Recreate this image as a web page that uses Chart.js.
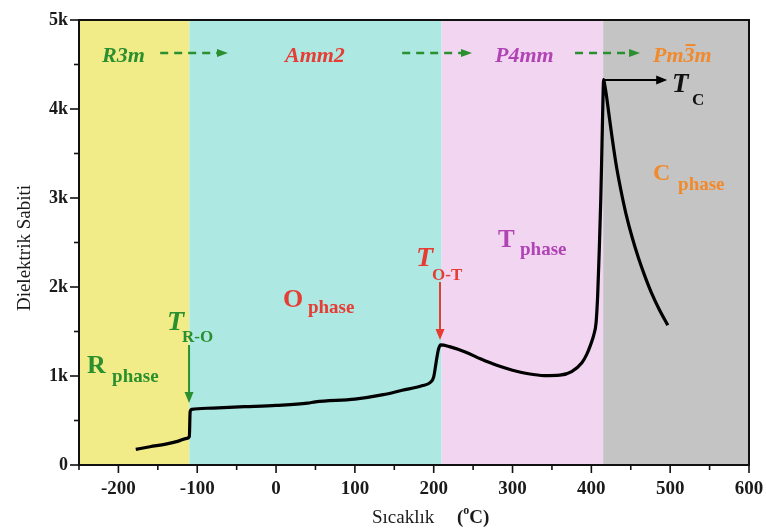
<!DOCTYPE html>
<html>
<head>
<meta charset="utf-8">
<script src="https://cdn.jsdelivr.net/npm/chart.js@4.4.1/dist/chart.umd.min.js"></script>
<style>
html,body{margin:0;padding:0;background:#fff;}
#wrap{width:766px;height:530px;position:relative;}
</style>
</head>
<body>
<div id="wrap"><canvas id="c" width="766" height="530"></canvas></div>
<script>
// ---- data ----
const temps = [-178,-160,-140,-125,-113,-110,-109,-107,-80,-40,0,40,50,100,136,160,185,196,200,203,206,209,220,240,260,280,300,320,340,360,375,388,394,399,403,406,408,410,412,413.5,414.7,415.5,417,419,422,426,431,437,444,452,460,468,476,486,497];
const permittivity = [175,205,235,265,300,320,600,625,640,655,670,695,710,740,790,840,890,930,990,1150,1300,1350,1330,1270,1190,1120,1065,1025,1005,1010,1050,1150,1240,1350,1460,1600,1900,2400,3000,3600,4100,4330,4270,4160,3960,3700,3400,3110,2820,2550,2320,2120,1940,1750,1570];
const phaseBounds = [-250,-110,210,415,600];
const phaseColors = ['#f2ec88','#ade8e3','#f1d5f1','#c4c4c4'];
const xTickLabels = ['-200','-100','0','100','200','300','400','500','600'];
const yTickLabels = ['0','1k','2k','3k','4k','5k'];
const yTitle = 'Dielektrik Sabiti';
const xTitle = 'Sıcaklık';

const SERIF = '"Liberation Serif","DejaVu Serif",serif';
const GREEN = '#2a8f2e', RED = '#e63c34', PURPLE = '#b044b4', ORANGE = '#f08a2c';

function arrowHead(ctx, x1, y1, x2, y2, color, len, half){
  const a = Math.atan2(y2-y1, x2-x1);
  ctx.fillStyle = color;
  ctx.beginPath();
  ctx.moveTo(x2, y2);
  ctx.lineTo(x2 - len*Math.cos(a) + half*Math.sin(a), y2 - len*Math.sin(a) - half*Math.cos(a));
  ctx.lineTo(x2 - len*Math.cos(a) - half*Math.sin(a), y2 - len*Math.sin(a) + half*Math.cos(a));
  ctx.closePath();
  ctx.fill();
}

const bgPlugin = {
  id: 'phases',
  beforeDatasetsDraw(chart){
    const {ctx, chartArea:a, scales:{x}} = chart;
    ctx.save();
    for (let i=0;i<phaseColors.length;i++){
      const x1 = x.getPixelForValue(phaseBounds[i]);
      const x2 = x.getPixelForValue(phaseBounds[i+1]);
      ctx.fillStyle = phaseColors[i];
      ctx.fillRect(x1, a.top, x2-x1, a.bottom-a.top);
    }
    ctx.restore();
  },
  afterDatasetsDraw(chart){
    const {ctx, chartArea:a, scales:{x, y}} = chart;
    const X = v => x.getPixelForValue(v), Y = v => y.getPixelForValue(v);
    ctx.save();
    // frame
    ctx.strokeStyle = '#111'; ctx.lineWidth = 2;
    ctx.strokeRect(a.left, a.top, a.right-a.left, a.bottom-a.top);
    // ticks
    ctx.lineWidth = 1.6;
    x.ticks.forEach(t => {
      const px = X(t.value); const major = t.value % 100 === 0;
      ctx.beginPath(); ctx.moveTo(px, a.bottom); ctx.lineTo(px, a.bottom + (major?8:5)); ctx.stroke();
    });
    y.ticks.forEach(t => {
      const py = Y(t.value); const major = t.value % 1000 === 0;
      ctx.beginPath(); ctx.moveTo(a.left, py); ctx.lineTo(a.left - (major?9:5), py); ctx.stroke();
    });

    const txt = (s, tx, ty, font, color) => {
      ctx.font = font; ctx.fillStyle = color; ctx.textAlign = 'left'; ctx.textBaseline = 'alphabetic';
      ctx.fillText(s, X(tx), Y(ty));
      return X(tx) + ctx.measureText(s).width;
    };
    const dashArrow = (t1, t2, v, color) => {
      ctx.strokeStyle = color; ctx.lineWidth = 2.5; ctx.setLineDash([8,6]);
      ctx.beginPath(); ctx.moveTo(X(t1), Y(v)); ctx.lineTo(X(t2)-8, Y(v)); ctx.stroke();
      ctx.setLineDash([]);
      arrowHead(ctx, X(t1), Y(v), X(t2), Y(v), color, 11, 4);
    };
    const solidArrow = (t1, v1, t2, v2, color) => {
      ctx.strokeStyle = color; ctx.lineWidth = 2; ctx.setLineDash([]);
      const x1=X(t1), y1=Y(v1), x2=X(t2), y2=Y(v2);
      const a2 = Math.atan2(y2-y1, x2-x1);
      ctx.beginPath(); ctx.moveTo(x1,y1); ctx.lineTo(x2-8*Math.cos(a2), y2-8*Math.sin(a2)); ctx.stroke();
      arrowHead(ctx, x1, y1, x2, y2, color, 11, 4.5);
    };

    const BI = sz => `italic bold ${sz}px ${SERIF}`;
    const B = sz => `bold ${sz}px ${SERIF}`;

    // space groups row
    txt('R3m', -220.8, 4528, BI(22), GREEN);
    dashArrow(-147, -61, 4629, GREEN);
    txt('Amm2', 11.3, 4528, BI(22), RED);
    dashArrow(160, 248.6, 4629, GREEN);
    txt('P4mm', 277.8, 4528, BI(22), PURPLE);
    dashArrow(379.3, 461.8, 4629, GREEN);
    // Pm3̄m with overbar on 3
    let ex = txt('Pm', 478.2, 4528, BI(22), ORANGE);
    ctx.font = BI(22);
    const w3 = ctx.measureText('3').width;
    ctx.fillText('3', ex, Y(4528));
    ctx.fillStyle = ORANGE;
    ctx.fillRect(ex + 2, Y(4528) - 18, w3 - 1, 2);
    ctx.fillText('m', ex + w3, Y(4528));

    // Tc
    solidArrow(415.5, 4326, 496.2, 4326, '#000');
    txt('T', 502.3, 4191, BI(27), '#111');
    txt('C', 527.7, 4045, B(17), '#111');

    // C phase
    txt('C', 478.2, 3202, B(24), ORANGE);
    txt('phase', 510, 3090, B(19), ORANGE);
    // T phase
    txt('T', 281.6, 2449, B(25), PURPLE);
    txt('phase', 309.5, 2360, B(19), PURPLE);
    // T O-T
    txt('T', 177.6, 2236, BI(28), RED);
    txt('O-T', 197.9, 2079, B(17), RED);
    solidArrow(208, 2056, 208, 1404, RED);
    // O phase
    txt('O', 8.8, 1775, B(26), RED);
    txt('phase', 40.5, 1708, B(19), RED);
    // T R-O
    txt('T', -138.4, 1517, BI(28), GREEN);
    txt('R-O', -119.3, 1382, B(17), GREEN);
    solidArrow(-110.4, 1348, -110.4, 697, GREEN);
    // R phase
    txt('R', -239.8, 1034, B(26), GREEN);
    txt('phase', -208, 933, B(19), GREEN);

    // axis titles
    ctx.fillStyle = '#1a1a1a';
    ctx.font = `19px ${SERIF}`;
    ctx.textBaseline = 'alphabetic'; ctx.textAlign = 'left';
    ctx.fillText(xTitle, 372, 523);
    ctx.font = `bold 19px ${SERIF}`;
    ctx.fillText('(', 457, 523);
    let px = 457 + ctx.measureText('(').width;
    ctx.font = `bold 12px ${SERIF}`;
    ctx.fillText('o', px, 514);
    px += ctx.measureText('o').width;
    ctx.font = `bold 19px ${SERIF}`;
    ctx.fillText('C)', px, 523);

    ctx.save();
    ctx.translate(30, 248);
    ctx.rotate(-Math.PI/2);
    ctx.font = `19px ${SERIF}`;
    ctx.textAlign = 'center';
    ctx.fillText(yTitle, 0, 0);
    ctx.restore();

    ctx.restore();
  }
};

const points = temps.map((t,i) => ({x:t, y:permittivity[i]}));

new Chart(document.getElementById('c'), {
  type: 'line',
  data: { datasets: [{
    data: points,
    borderColor: '#000',
    borderWidth: 3.2,
    pointRadius: 0,
    cubicInterpolationMode: 'monotone',
    fill: false
  }]},
  options: {
    responsive: false,
    animation: false,
    layout: { padding: { top: 20, right: 17, left: 0, bottom: 0 } },
    plugins: { legend: {display:false}, tooltip: {enabled:false} },
    scales: {
      x: {
        type: 'linear', min: -250, max: 600,
        afterFit: s => { s.height = 65; s.paddingLeft = 0; s.paddingRight = 0; },
        grid: { display: true, drawOnChartArea: false, drawTicks: false, color: 'rgba(0,0,0,0)' },
        border: { display: false },
        ticks: {
          stepSize: 50, autoSkip: false, maxRotation: 0, padding: 13,
          color: '#1a1a1a', font: { family: SERIF, size: 19, weight: 'bold' },
          callback: v => { const i = xTickLabels.indexOf(String(v)); return i >= 0 ? xTickLabels[i] : ''; }
        }
      },
      y: {
        type: 'linear', min: 0, max: 5000,
        afterFit: s => { s.width = 79; s.paddingTop = 0; s.paddingBottom = 0; },
        grid: { display: true, drawOnChartArea: false, drawTicks: false, color: 'rgba(0,0,0,0)' },
        border: { display: false },
        ticks: {
          stepSize: 500, autoSkip: false, padding: 11,
          color: '#1a1a1a', font: { family: SERIF, size: 18, weight: 'bold' },
          callback: v => v % 1000 === 0 ? yTickLabels[v/1000] : ''
        }
      }
    }
  },
  plugins: [bgPlugin]
});
</script>
</body>
</html>
